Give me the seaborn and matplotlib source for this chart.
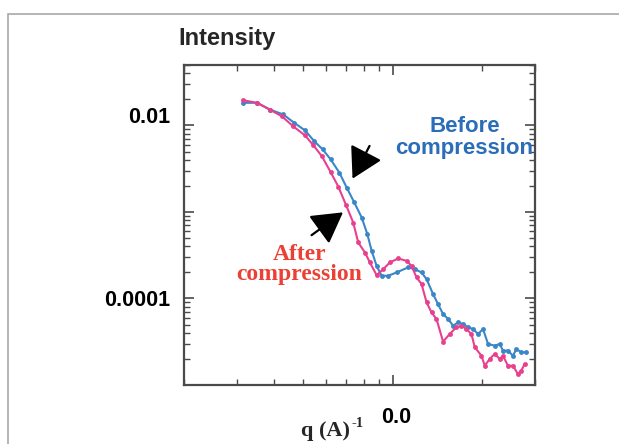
import numpy as np
import pandas as pd
import matplotlib
matplotlib.use("Agg")
import matplotlib.pyplot as plt
import matplotlib.ticker as mticker
import matplotlib.transforms as mtransforms
from matplotlib.patches import Rectangle
import seaborn as sns

# SAXS profiles: scattering vector q (1/A) and intensity
q_before = [0.0316, 0.0352, 0.0388, 0.0430, 0.0468, 0.0509, 0.0546, 0.0583, 0.0620,
            0.0663, 0.0702, 0.0743, 0.0788, 0.0823, 0.0851, 0.0884, 0.0919, 0.0967,
            0.1031, 0.1128, 0.1187, 0.1250, 0.1300, 0.1367, 0.1420, 0.1476, 0.1535,
            0.1595, 0.1657, 0.1722, 0.1790, 0.1860, 0.1933, 0.2009, 0.2088, 0.2198,
            0.2285, 0.2343, 0.2435, 0.2530, 0.2600, 0.2700, 0.2807]
i_before = [0.01828, 0.01828, 0.01529, 0.0134, 0.01074, 0.00876, 0.00659, 0.00529, 0.00405,
            0.00285, 0.00191, 0.0013, 0.000862, 0.000553, 0.000355, 0.000238, 0.000183, 0.000183,
            0.0002, 0.000229, 0.000218, 0.0002, 0.000167, 0.000112, 8.6e-5, 6.6e-5, 5.8e-5,
            4.84e-5, 5.3e-5, 5.07e-5, 4.65e-5, 4.43e-5, 3.89e-5, 4.43e-5, 2.98e-5, 2.85e-5,
            2.98e-5, 2.5e-5, 2.5e-5, 2.18e-5, 2.6e-5, 2.39e-5, 2.39e-5]

q_after = [0.0315, 0.0351, 0.0387, 0.0425, 0.0465, 0.0509, 0.0543, 0.0579, 0.0620,
           0.0658, 0.0698, 0.0738, 0.0767, 0.0808, 0.0839, 0.0884, 0.0930, 0.0979,
           0.1044, 0.1114, 0.1157, 0.1203, 0.1250, 0.1300, 0.1350, 0.1403, 0.1476,
           0.1555, 0.1637, 0.1700, 0.1768, 0.1837, 0.1885, 0.1985, 0.2036, 0.2115,
           0.2198, 0.2285, 0.2343, 0.2435, 0.2530, 0.2630, 0.2700, 0.2770]
i_after = [0.0196, 0.01828, 0.01529, 0.0128, 0.00974, 0.00767, 0.00588, 0.00443, 0.00289,
           0.00196, 0.001205, 0.000755, 0.000444, 0.00034, 0.000261, 0.000186, 0.000218, 0.000261,
           0.00029, 0.000272, 0.000238, 0.000175, 0.000147, 9.0e-5, 6.9e-5, 5.8e-5, 3.17e-5,
           3.9e-5, 4.65e-5, 4.85e-5, 4.43e-5, 3.89e-5, 2.73e-5, 2.18e-5, 1.67e-5, 2.0e-5,
           2.29e-5, 2.0e-5, 2.18e-5, 1.67e-5, 1.67e-5, 1.34e-5, 1.47e-5, 1.75e-5]

series_names = ["Before compression", "After compression"]
line_colors = ["#3b86c8", "#e8408e"]

x_ticks = [0.1]
x_ticklabels = ["0.0"]
y_ticks = [1e-5, 1e-4, 1e-3, 1e-2]
y_ticklabels = ["", "0.0001", "", "0.01"]

df = pd.concat([
    pd.DataFrame({"q": q_before, "I": i_before, "state": series_names[0]}),
    pd.DataFrame({"q": q_after, "I": i_after, "state": series_names[1]}),
], ignore_index=True)

sns.set_theme(style="white")
plt.rcParams["font.family"] = ["Liberation Sans", "DejaVu Sans"]

W, H = 619, 444
fig = plt.figure(figsize=(W / 100, H / 100), dpi=100)


def fx(x):
    return x / W


def fy(y):
    return 1 - y / H


ax = fig.add_axes([fx(184), fy(385), fx(535) - fx(184), fy(65) - fy(385)])

sns.lineplot(data=df, x="q", y="I", hue="state", hue_order=series_names,
             palette=line_colors, marker="o", markersize=3.5, markeredgewidth=0,
             linewidth=1.5, estimator=None, sort=False, legend=False, ax=ax)

ax.set_xscale("log")
ax.set_yscale("log")
ax.set_xlim(0.02, 0.3)
ax.set_ylim(1e-5, 0.05)

ax.xaxis.set_major_locator(mticker.FixedLocator(x_ticks))
ax.xaxis.set_minor_locator(mticker.LogLocator(base=10, subs=np.arange(2, 10)))
ax.set_xticklabels(x_ticklabels)
ax.xaxis.set_minor_formatter(mticker.NullFormatter())

ax.yaxis.set_major_locator(mticker.FixedLocator(y_ticks))
ax.yaxis.set_minor_locator(mticker.LogLocator(base=10, subs=np.arange(2, 10)))
ax.set_yticklabels(y_ticklabels)
ax.yaxis.set_minor_formatter(mticker.NullFormatter())

ax.set_xlabel("")
ax.set_ylabel("")

for s in ax.spines.values():
    s.set_color("#4a4a4a")
    s.set_linewidth(1.6)

ax.tick_params(which="both", direction="in", top=True, right=True, bottom=True,
               left=True, colors="#4a4a4a")
ax.tick_params(which="major", length=7, width=1.2, labelsize=15.5, labelcolor="black")
ax.tick_params(which="minor", length=4, width=1.0)
ax.tick_params(axis="x", which="major", pad=16)
ax.tick_params(axis="y", which="major", pad=10)
for lab in ax.get_xticklabels() + ax.get_yticklabels():
    lab.set_fontweight("bold")

# nudge the upper y label above its tick and the x label a little right
ylabs = ax.get_yticklabels()
ylabs[3].set_transform(ylabs[3].get_transform() +
                       mtransforms.ScaledTranslation(0, 10 / 100, fig.dpi_scale_trans))
xlab = ax.get_xticklabels()[0]
xlab.set_transform(xlab.get_transform() +
                   mtransforms.ScaledTranslation(4 / 100, 0, fig.dpi_scale_trans))

# annotations on the curves
ax.text(0.174, 0.00727, "Before\ncompression", color="#2b6db8", fontsize=16,
        fontweight="bold", ha="center", va="center", linespacing=1.05)
ax.text(0.0486, 0.000249, "After\ncompression", color="#ec4035", fontsize=17,
        fontweight="bold", family=["Liberation Serif", "DejaVu Serif"],
        ha="center", va="center", linespacing=0.95)

arrow_style = dict(arrowstyle="-|>,head_length=1.05,head_width=0.6", color="black",
                   lw=1.6, mutation_scale=18, shrinkA=0, shrinkB=0)
ax.annotate("", xy=(0.0734, 0.002427), xytext=(0.0837, 0.0058), arrowprops=arrow_style)
ax.annotate("", xy=(0.0682, 0.00099), xytext=(0.0535, 0.000539), arrowprops=arrow_style)

# axis titles
fig.text(fx(178), fy(45), "Intensity", fontsize=17, fontweight="bold",
         ha="left", va="baseline")
fig.text(fx(301), fy(436), "q (A)", fontsize=16, fontweight="bold",
         family=["Liberation Serif", "DejaVu Serif"], ha="left", va="baseline")
fig.text(fx(351), fy(427), "-1", fontsize=10.5, fontweight="bold",
         family=["Liberation Serif", "DejaVu Serif"], ha="left", va="baseline")

# frame around the figure
fig.add_artist(Rectangle((fx(8), -0.2), 1.2, fy(14) + 0.2, transform=fig.transFigure,
                         fill=False, edgecolor="#a8a8a8", linewidth=1.2))

fig.savefig("out.png", dpi=100)
